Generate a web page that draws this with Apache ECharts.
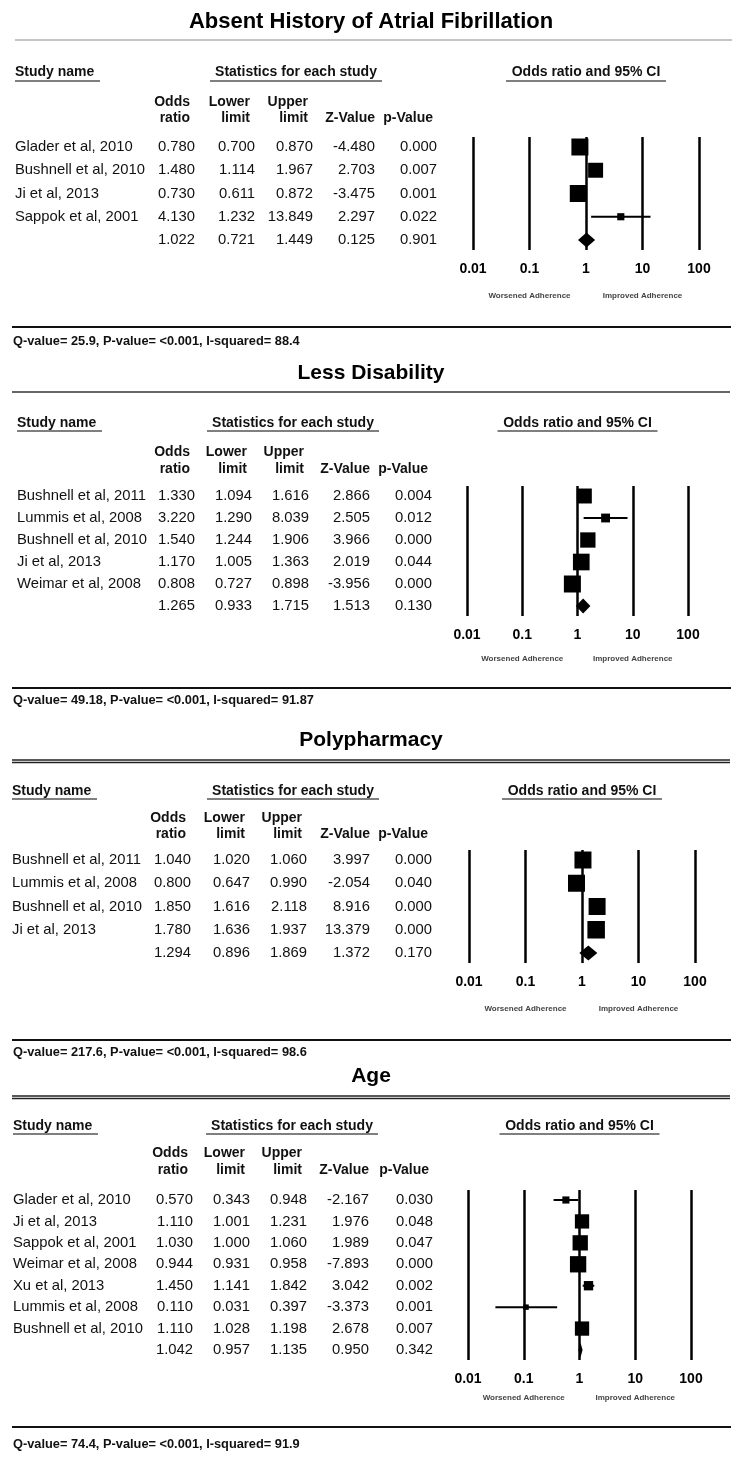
<!DOCTYPE html>
<html><head><meta charset="utf-8">
<script src="https://cdn.jsdelivr.net/npm/echarts@6/dist/echarts.min.js"></script>
<style>html,body{margin:0;padding:0;background:#fff}#c{width:742px;height:1457px}</style>
</head><body><div id="c"></div>
<script>
// ---------------- data ----------------
const tickValues = [0.01, 0.1, 1, 10, 100];
const tickLabels = ['0.01', '0.1', '1', '10', '100'];
const colHeadTop = ['Odds', 'Lower', 'Upper', '', ''];
const colHeadBottom = ['ratio', 'limit', 'limit', 'Z-Value', 'p-Value'];

const afTitle = 'Absent History of Atrial Fibrillation';
const afStudies = ['Glader et al, 2010', 'Bushnell et al, 2010', 'Ji et al, 2013', 'Sappok et al, 2001', ''];
const afOR = [0.780, 1.480, 0.730, 4.130, 1.022];
const afLower = [0.700, 1.114, 0.611, 1.232, 0.721];
const afUpper = [0.870, 1.967, 0.872, 13.849, 1.449];
const afZ = [-4.480, 2.703, -3.475, 2.297, 0.125];
const afP = [0.000, 0.007, 0.001, 0.022, 0.901];
const afWeight = [1.0, 0.88, 1.0, 0.42];
const afQ = 'Q-value= 25.9, P-value= <0.001, I-squared= 88.4';

const ldTitle = 'Less Disability';
const ldStudies = ['Bushnell et al, 2011', 'Lummis et al, 2008', 'Bushnell et al, 2010', 'Ji et al, 2013', 'Weimar et al, 2008', ''];
const ldOR = [1.330, 3.220, 1.540, 1.170, 0.808, 1.265];
const ldLower = [1.094, 1.290, 1.244, 1.005, 0.727, 0.933];
const ldUpper = [1.616, 8.039, 1.906, 1.363, 0.898, 1.715];
const ldZ = [2.866, 2.505, 3.966, 2.019, -3.956, 1.513];
const ldP = [0.004, 0.012, 0.000, 0.044, 0.000, 0.130];
const ldWeight = [0.88, 0.52, 0.9, 0.98, 1.0];
const ldQ = 'Q-value= 49.18, P-value= <0.001, I-squared= 91.87';

const ppTitle = 'Polypharmacy';
const ppStudies = ['Bushnell et al, 2011', 'Lummis et al, 2008', 'Bushnell et al, 2010', 'Ji et al, 2013', ''];
const ppOR = [1.040, 0.800, 1.850, 1.780, 1.294];
const ppLower = [1.020, 0.647, 1.616, 1.636, 0.896];
const ppUpper = [1.060, 0.990, 2.118, 1.937, 1.869];
const ppZ = [3.997, -2.054, 8.916, 13.379, 1.372];
const ppP = [0.000, 0.040, 0.000, 0.000, 0.170];
const ppWeight = [1.0, 1.0, 1.0, 1.03];
const ppQ = 'Q-value= 217.6, P-value= <0.001, I-squared= 98.6';

const agTitle = 'Age';
const agStudies = ['Glader et al, 2010', 'Ji et al, 2013', 'Sappok et al, 2001', 'Weimar et al, 2008', 'Xu et al, 2013', 'Lummis et al, 2008', 'Bushnell et al, 2010', ''];
const agOR = [0.570, 1.110, 1.030, 0.944, 1.450, 0.110, 1.110, 1.042];
const agLower = [0.343, 1.001, 1.000, 0.931, 1.141, 0.031, 1.028, 0.957];
const agUpper = [0.948, 1.231, 1.060, 0.958, 1.842, 0.397, 1.198, 1.135];
const agZ = [-2.167, 1.976, 1.989, -7.893, 3.042, -3.373, 2.678, 0.950];
const agP = [0.030, 0.048, 0.047, 0.000, 0.002, 0.001, 0.007, 0.342];
const agWeight = [0.42, 0.84, 0.9, 0.96, 0.55, 0.32, 0.84];
const agQ = 'Q-value= 74.4, P-value= <0.001, I-squared= 91.9';

const worseLabel = 'Worsened Adherence';
const betterLabel = 'Improved Adherence';

// ---------------- assembly ----------------
const panels = [
  {title: afTitle, studies: afStudies, or: afOR, lo: afLower, hi: afUpper, z: afZ, p: afP, w: afWeight, q: afQ},
  {title: ldTitle, studies: ldStudies, or: ldOR, lo: ldLower, hi: ldUpper, z: ldZ, p: ldP, w: ldWeight, q: ldQ},
  {title: ppTitle, studies: ppStudies, or: ppOR, lo: ppLower, hi: ppUpper, z: ppZ, p: ppP, w: ppWeight, q: ppQ},
  {title: agTitle, studies: agStudies, or: agOR, lo: agLower, hi: agUpper, z: agZ, p: agP, w: agWeight, q: agQ}
];

// layout (pixels)
const layouts = [
  {titleY: 22, ruleY: 40, rule: 'thin', headY: 72, ulY: 81, ch1: 102, ch2: 118, top: 137, bottom: 250, advY: 296, blackY: 327, qY: 341, xL: 473, xR: 699, nameX: 15, cols: [195, 255, 313, 375, 437], statsX: 296, titleSize: 22},
  {titleY: 373, ruleY: 392, rule: 'mid', headY: 423, ulY: 431, ch1: 452, ch2: 469, top: 486, bottom: 616, advY: 659, blackY: 688, qY: 700, xL: 467, xR: 688, nameX: 17, cols: [195, 252, 309, 370, 432], statsX: 293, titleSize: 21},
  {titleY: 740, ruleY: 760, rule: 'double', headY: 791, ulY: 799, ch1: 818, ch2: 834, top: 850, bottom: 963, advY: 1009, blackY: 1040, qY: 1052, xL: 469, xR: 695, nameX: 12, cols: [191, 250, 307, 370, 432], statsX: 293, titleSize: 21},
  {titleY: 1076, ruleY: 1096, rule: 'double', headY: 1126, ulY: 1134, ch1: 1153, ch2: 1170, top: 1190, bottom: 1360, advY: 1398, blackY: 1427, qY: 1444, xL: 468, xR: 691, nameX: 13, cols: [193, 250, 307, 369, 433], statsX: 292, titleSize: 21}
];
const headOffsets = [-5, -5, -5, 0, -4];

const FONT = "'Liberation Sans', Arial, Helvetica, sans-serif";
const BOX = 17;

const grids = [], xAxes = [], yAxes = [], series = [], graphics = [];

function txt(text, x, y, font, align, fill) {
  return {type: 'text', silent: true, style: {text, x, y, font, fill: fill || '#111',
    textAlign: align, align, textVerticalAlign: 'middle', verticalAlign: 'middle'}};
}
function hline(x1, x2, y, color, w) {
  return {type: 'line', silent: true, shape: {x1, y1: y, x2, y2: y}, style: {stroke: color, lineWidth: w}};
}

panels.forEach((P, i) => {
  const L = layouts[i];
  const n = P.or.length;
  const step = (L.bottom - L.top - 20) / (n - 1);
  const pad = 10 / step;
  const oneX = (L.xL + L.xR) / 2;

  grids.push({left: L.xL, width: L.xR - L.xL, top: L.top, height: L.bottom - L.top});
  xAxes.push({
    gridIndex: i, type: 'log', logBase: 10, min: 0.01, max: 100, splitNumber: 4,
    axisLine: {show: false}, axisTick: {show: false},
    splitLine: {show: true, lineStyle: {color: '#000', width: 2.5}},
    axisLabel: {
      margin: 12, color: '#000', fontWeight: 'bold', fontSize: 14, fontFamily: FONT,
      formatter: v => {
        const k = tickValues.findIndex(t => Math.abs(Math.log10(t) - Math.log10(v)) < 1e-6);
        return k >= 0 ? tickLabels[k] : '';
      }
    }
  });
  yAxes.push({gridIndex: i, type: 'value', inverse: true, min: -pad, max: n - 1 + pad, show: false, splitLine: {show: false}});

  // forest plot marks
  series.push({
    type: 'custom', xAxisIndex: i, yAxisIndex: i, clip: false, silent: true,
    data: P.or.map((v, k) => [v, P.lo[k], P.hi[k], k, k < n - 1 ? P.w[k] : -1]),
    encode: {x: [0, 1, 2], y: 3},
    renderItem: (params, api) => {
      const or = api.value(0), lo = api.value(1), hi = api.value(2), row = api.value(3), w = api.value(4);
      const c = api.coord([or, row]), a = api.coord([lo, row]), b = api.coord([hi, row]);
      if (w < 0) {
        const h = 7.5;
        return {type: 'polygon', shape: {points: [[a[0], c[1]], [c[0], c[1] - h], [b[0], c[1]], [c[0], c[1] + h]]},
          style: {fill: '#000'}};
      }
      const s = BOX * w;
      return {type: 'group', children: [
        {type: 'line', shape: {x1: a[0], y1: c[1], x2: b[0], y2: c[1]}, style: {stroke: '#000', lineWidth: 2}},
        {type: 'rect', shape: {x: c[0] - s / 2, y: c[1] - s / 2, width: s, height: s}, style: {fill: '#000'}}
      ]};
    }
  });

  // table rows
  series.push({
    type: 'custom', xAxisIndex: i, yAxisIndex: i, clip: false, silent: true,
    data: P.or.map((v, k) => [1, k]),
    encode: {x: 0, y: 1},
    renderItem: (params, api) => {
      const k = params.dataIndex;
      const y = api.coord([1, api.value(1)])[1];
      const font = '14.8px ' + FONT;
      const cells = [P.or[k], P.lo[k], P.hi[k], P.z[k], P.p[k]].map(v => v.toFixed(3));
      const children = [txt(P.studies[k], L.nameX, y, font, 'left', '#111')];
      cells.forEach((t, j) => children.push(txt(t, L.cols[j], y, font, 'right', '#111')));
      return {type: 'group', children};
    }
  });

  // titles and headers
  graphics.push(txt(P.title, 371, L.titleY, 'bold ' + L.titleSize + 'px ' + FONT, 'center', '#000'));
  if (L.rule === 'thin') graphics.push(hline(15, 732, L.ruleY, '#8a8a8a', 1.2));
  else if (L.rule === 'mid') graphics.push(hline(12, 730, L.ruleY, '#333', 1.5));
  else { graphics.push(hline(12, 730, L.ruleY, '#222', 1.3)); graphics.push(hline(12, 730, L.ruleY + 2.5, '#222', 1.3)); }

  const hf = 'bold 14px ' + FONT;
  graphics.push(txt('Study name', L.nameX, L.headY, hf, 'left', '#111'));
  graphics.push(hline(L.nameX, L.nameX + 85, L.ulY, '#555', 1.3));
  graphics.push(txt('Statistics for each study', L.statsX, L.headY, hf, 'center', '#111'));
  graphics.push(hline(L.statsX - 86, L.statsX + 86, L.ulY, '#555', 1.3));
  graphics.push(txt('Odds ratio and 95% CI', oneX, L.headY, hf, 'center', '#111'));
  graphics.push(hline(oneX - 80, oneX + 80, L.ulY, '#555', 1.3));
  colHeadTop.forEach((t, j) => { if (t) graphics.push(txt(t, L.cols[j] + headOffsets[j], L.ch1, hf, 'right', '#111')); });
  colHeadBottom.forEach((t, j) => graphics.push(txt(t, L.cols[j] + headOffsets[j], L.ch2, hf, 'right', '#111')));

  // adherence labels under 0.1 and 10
  const q1 = L.xL + (L.xR - L.xL) / 4, q3 = L.xL + 3 * (L.xR - L.xL) / 4;
  graphics.push(txt(worseLabel, q1, L.advY, 'bold 8px ' + FONT, 'center', '#444'));
  graphics.push(txt(betterLabel, q3, L.advY, 'bold 8px ' + FONT, 'center', '#444'));

  // bottom rule and heterogeneity text
  graphics.push(hline(12, 731, L.blackY, '#111', 2));
  graphics.push(txt(P.q, 13, L.qY, 'bold 12.8px ' + FONT, 'left', '#111'));
});

const chart = echarts.init(document.getElementById('c'), null, {renderer: 'canvas'});
chart.setOption({
  backgroundColor: '#fff',
  animation: false,
  grid: grids,
  xAxis: xAxes,
  yAxis: yAxes,
  series: series,
  graphic: {elements: graphics}
});
</script>
</body></html>
